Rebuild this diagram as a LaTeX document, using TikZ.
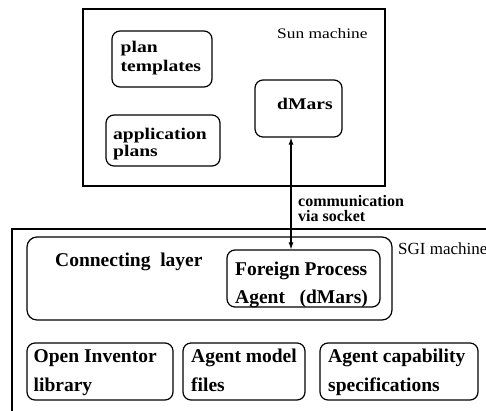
\documentclass[tikz,border=0pt]{standalone}
\usepackage{fontspec}
\setmainfont{Liberation Serif}
\newfontfamily\widefont{Liberation Serif}[FakeStretch=1.2]
\usetikzlibrary{arrows.meta}
\begin{document}
\begin{tikzpicture}[x=1pt,y=-1pt,
 box/.style={draw,line width=1.2pt,rounded corners=8pt,inner sep=0pt},
 frame/.style={draw,line width=1.3pt,inner sep=0pt},
 toptxt/.style={anchor=base west,inner sep=0pt,font=\widefont\bfseries\fontsize{16.3}{16}\selectfont},
 toplabel/.style={anchor=base west,inner sep=0pt,font=\widefont\fontsize{14.5}{15}\selectfont},
 commtxt/.style={anchor=base west,inner sep=0pt,font=\bfseries\fontsize{16}{15}\selectfont},
 sgitxt/.style={anchor=base west,inner sep=0pt,font=\fontsize{17}{17}\selectfont},
 bottxt/.style={anchor=base west,inner sep=0pt,font=\bfseries\fontsize{19.5}{20}\selectfont},
 link/.style={line width=1.1pt,{Latex[length=7pt,width=5pt]}-{Latex[length=7pt,width=5pt]}}
 ]
\useasboundingbox (0,0) rectangle (486,410);
\clip (0,0) rectangle (486,410);
% frames
\node[frame,minimum width=302pt,minimum height=177pt] (sun) at (234,97.5) {};
\node[frame,minimum width=508pt,minimum height=211pt] (sgi) at (266,334.5) {};
% Sun machine boxes
\node[box,minimum width=100pt,minimum height=56pt] (plantpl) at (162,59) {};
\node[box,minimum width=114pt,minimum height=51pt] (appplans) at (163,140.5) {};
\node[box,minimum width=87pt,minimum height=57pt] (dmars) at (298.5,108.5) {};
\node[toptxt] (t1) at (120.5,52.3) {plan};
\node[toptxt] (t2) at (120.5,71.7) {templates};
\node[toptxt] (t3) at (113,139.5) {application};
\node[toptxt] (t4) at (113,156.7) {plans};
\node[toptxt] (t5) at (277,109) {dMars};
\node[toplabel] (sunlbl) at (277,38) {Sun machine};
% SGI machine boxes
\node[box,rounded corners=10pt,minimum width=365pt,minimum height=83pt] (conn) at (209.5,278.5) {};
\node[box,minimum width=153pt,minimum height=57pt] (fpa) at (303.5,278.5) {};
\node[bottxt] (c1) at (55,266) {Connecting\ \ layer};
\node[bottxt] (f1) at (235,275) {Foreign Process};
\node[bottxt] (f2) at (235,303) {Agent\ \ \ (dMars)};
\node[sgitxt] (sgilbl) at (398,254) {SGI machine};
\node[box,minimum width=146pt,minimum height=57pt] (oi) at (100,371.5) {};
\node[box,minimum width=122pt,minimum height=57pt] (amf) at (244,371.5) {};
\node[box,minimum width=158pt,minimum height=57pt] (acs) at (399,371.5) {};
\node[bottxt] (b1) at (33.5,362.5) {Open Inventor};
\node[bottxt] (b2) at (33.5,391) {library};
\node[bottxt] (b3) at (191,362.5) {Agent model};
\node[bottxt] (b4) at (191,391) {files};
\node[bottxt] (b5) at (328,362.5) {Agent capability};
\node[bottxt] (b6) at (328,391) {specifications};
% communication link
\coordinate (ax) at (291,0);
\draw[link] (dmars.south -| ax) -- (fpa.north -| ax);
\node[commtxt] (m1) at (298,206.5) {communication};
\node[commtxt] (m2) at (298,221.5) {via socket};
\end{tikzpicture}
\end{document}
